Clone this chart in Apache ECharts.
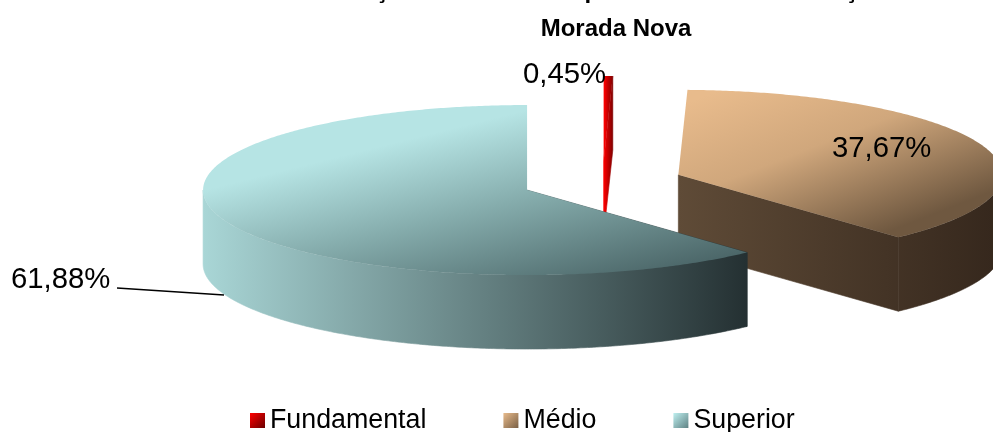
<!DOCTYPE html>
<html>
<head>
<meta charset="utf-8">
<style>
  html, body { margin: 0; padding: 0; background: #fff; }
  #chart { width: 993px; height: 432px; }
</style>
<script src="https://cdn.jsdelivr.net/npm/echarts@6/dist/echarts.min.js"></script>
</head>
<body>
<div id="chart"></div>
<script>
const categories = ['Fundamental', 'Médio', 'Superior']
const percentages = [0.45, 37.67, 61.88]
const titleLines = ['Distribuição dos docentes por nível de Escolarização em\u00a0\u00a0\u00a0\u00a0', 'Morada Nova']

const FONT = '"Liberation Sans", Arial, sans-serif'

// projecao do "pie 3d"
const CX = 602.5
const CY = 182.3
const RX = 324
const RY = 85
const DEPTH = 74
const EXPLODE = 0.25

// gradiente da face de cima em coordenadas da tela
const topGradients = [
  { from: [604, 0], to: [613, 0], stops: ['#ff0000', '#c00000', '#800000'] },
  { from: [720, 90], to: [790, 270], stops: ['#e8bb8c', '#d0a77c', '#6f5840'] },
  { from: [527, 110], to: [573, 295], stops: ['#b6e4e4', '#85acac', '#4c6769'] }
]
const wallColors = [['#ff0000', '#800000'], ['#5f4b37', '#36281d'], ['#a9d6d6', '#243032']]
const legendColors = [['#ff0000', '#6a0000'], ['#e8bb8c', '#7a6045'], ['#bff0f0', '#5f8284']]

function grad(x0, y0, x1, y1, pair) {
  return new echarts.graphic.LinearGradient(x0, y0, x1, y1, [
    { offset: 0, color: pair[0] },
    { offset: 1, color: pair[1] }
  ])
}

function topFill(idx) {
  const g = topGradients[idx]
  return new echarts.graphic.LinearGradient(g.from[0], g.from[1], g.to[0], g.to[1], [
    { offset: 0, color: g.stops[0] },
    { offset: 0.45, color: g.stops[1] },
    { offset: 1, color: g.stops[2] }
  ], true)
}

// angulos vem dos valores, sentido horario a partir das 12h
function sliceAngles() {
  const total = percentages.reduce((a, b) => a + b, 0)
  let acc = 0
  return percentages.map(v => {
    const start = acc / total * Math.PI * 2
    acc += v
    return [start, acc / total * Math.PI * 2]
  })
}

function point(apex, a) {
  return [apex[0] + RX * Math.sin(a), apex[1] - RY * Math.cos(a)]
}

function arcPoints(apex, a0, a1) {
  const pts = []
  const n = Math.max(2, Math.ceil(Math.abs(a1 - a0) / 0.01))
  for (let i = 0; i <= n; i++) {
    pts.push(point(apex, a0 + (a1 - a0) * i / n))
  }
  return pts
}

function drop(pts) {
  return pts.map(p => [p[0], p[1] + DEPTH]).reverse()
}

function renderSlice(idx) {
  const [a0, a1] = sliceAngles()[idx]
  const mid = (a0 + a1) / 2
  const apex = [CX + EXPLODE * RX * Math.sin(mid), CY - EXPLODE * RY * Math.cos(mid)]
  const walls = []

  // parede do corte: so aparece se o fim da fatia vira para a frente
  if (a1 < Math.PI) {
    const cut = [apex, point(apex, a1)]
    walls.push(cut.concat(drop(cut)))
  } else if (a0 < Math.PI) {
    const cut = [apex, point(apex, a0)]
    walls.push(cut.concat(drop(cut)))
  }

  // parede curva visivel: trecho do arco entre 90 e 270 graus
  const f0 = Math.max(a0, Math.PI / 2)
  const f1 = Math.min(a1, Math.PI * 1.5)
  if (f1 > f0) {
    const arc = arcPoints(apex, f0, f1)
    walls.push(arc.concat(drop(arc)))
  }

  // gradiente unico atravessando as paredes da fatia
  const xs = walls.flat().map(p => p[0])
  const x0 = Math.min(...xs)
  const x1 = Math.min(Math.max(...xs), 993)
  const wallFill = new echarts.graphic.LinearGradient(x0, 0, x1, 0, [
    { offset: 0, color: wallColors[idx][0] },
    { offset: 1, color: wallColors[idx][1] }
  ], true)

  const children = walls.map(pts => ({
    type: 'polygon',
    shape: { points: pts },
    style: { fill: wallFill, stroke: wallFill, lineWidth: 0.6 }
  }))

  // face de cima
  children.push({
    type: 'polygon',
    shape: { points: [apex].concat(arcPoints(apex, a0, a1)) },
    style: { fill: topFill(idx) }
  })
  return { type: 'group', children: children }
}

const pctText = v => v.toFixed(2).replace('.', ',') + '%'

const chart = echarts.init(document.getElementById('chart'))

chart.setOption({
  animation: false,
  backgroundColor: '#fff',
  title: {
    text: titleLines.join('\n'),
    left: 611,
    top: -33,
    textAlign: 'center',
    textStyle: { fontFamily: FONT, fontSize: 24, fontWeight: 'bold', color: '#000', lineHeight: 38 }
  },
  legend: {
    top: 402,
    left: 245,
    itemWidth: 15,
    itemHeight: 15,
    itemGap: 77,
    icon: 'rect',
    textStyle: { fontFamily: FONT, fontSize: 26.8, color: '#000' },
    data: categories.map((name, i) => ({
      name: name,
      icon: 'rect',
      itemStyle: { color: grad(0, 0, 1, 1, legendColors[i]) }
    }))
  },
  series: categories.map((name, i) => ({
    type: 'custom',
    name: name,
    coordinateSystem: 'none',
    silent: true,
    z: 2 + i,
    data: [percentages[i]],
    renderItem: () => renderSlice(i)
  })),
  graphic: [
    { type: 'text', z: 20, left: 523, top: 60, style: { text: pctText(percentages[0]), font: '29.3px ' + FONT, fill: '#000' } },
    { type: 'text', z: 20, left: 832, top: 134, style: { text: pctText(percentages[1]), font: '29.3px ' + FONT, fill: '#000' } },
    { type: 'text', z: 20, left: 11, top: 265, style: { text: pctText(percentages[2]), font: '29.3px ' + FONT, fill: '#000' } },
    { type: 'polyline', z: 20, shape: { points: [[117, 288], [224, 295]] }, style: { stroke: '#000', lineWidth: 1.5, fill: null } }
  ]
})
</script>
</body>
</html>
